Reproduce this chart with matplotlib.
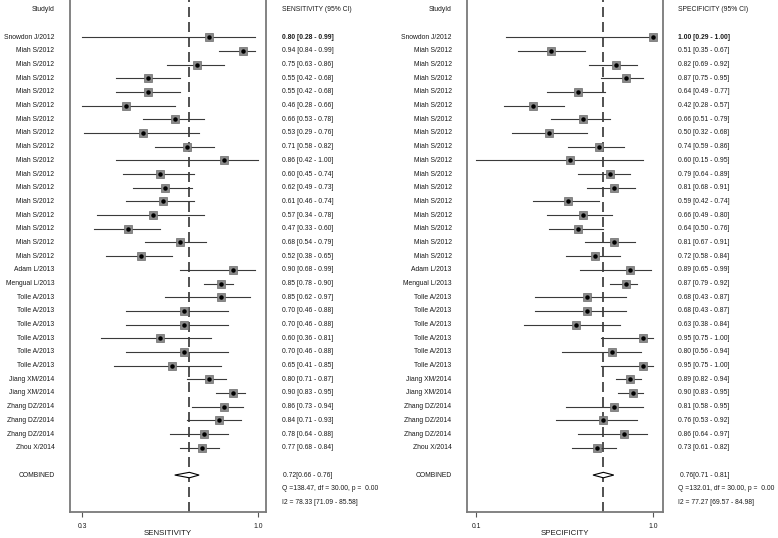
import matplotlib
matplotlib.use("Agg")
import matplotlib.pyplot as plt
import matplotlib.transforms as mtransforms
from matplotlib.patches import Polygon

plt.rcParams['font.family'] = ['Liberation Sans', 'DejaVu Sans']

studies = ["Snowdon J/2012"] + ["Miah S/2012"] * 16 + ["Adam L/2013", "Mengual L/2013"] + \
          ["Tolle A/2013"] * 6 + ["Jiang XM/2014"] * 2 + ["Zhang DZ/2014"] * 3 + ["Zhou X/2014"]

sens = [0.80, 0.94, 0.75, 0.55, 0.55, 0.46, 0.66, 0.53, 0.71, 0.86, 0.60, 0.62, 0.61, 0.57, 0.47, 0.68,
        0.52, 0.90, 0.85, 0.85, 0.70, 0.70, 0.60, 0.70, 0.65, 0.80, 0.90, 0.86, 0.84, 0.78, 0.77]
sens_lo = [0.28, 0.84, 0.63, 0.42, 0.42, 0.28, 0.53, 0.29, 0.58, 0.42, 0.45, 0.49, 0.46, 0.34, 0.33, 0.54,
           0.38, 0.68, 0.78, 0.62, 0.46, 0.46, 0.36, 0.46, 0.41, 0.71, 0.83, 0.73, 0.71, 0.64, 0.68]
sens_hi = [0.99, 0.99, 0.86, 0.68, 0.68, 0.66, 0.78, 0.76, 0.82, 1.00, 0.74, 0.73, 0.74, 0.78, 0.60, 0.79,
           0.65, 0.99, 0.90, 0.97, 0.88, 0.88, 0.81, 0.88, 0.85, 0.87, 0.95, 0.94, 0.93, 0.88, 0.84]

spec = [1.00, 0.51, 0.82, 0.87, 0.64, 0.42, 0.66, 0.50, 0.74, 0.60, 0.79, 0.81, 0.59, 0.66, 0.64, 0.81,
        0.72, 0.89, 0.87, 0.68, 0.68, 0.63, 0.95, 0.80, 0.95, 0.89, 0.90, 0.81, 0.76, 0.86, 0.73]
spec_lo = [0.29, 0.35, 0.69, 0.75, 0.49, 0.28, 0.51, 0.32, 0.59, 0.15, 0.64, 0.68, 0.42, 0.49, 0.50, 0.67,
           0.58, 0.65, 0.79, 0.43, 0.43, 0.38, 0.75, 0.56, 0.75, 0.82, 0.83, 0.58, 0.53, 0.64, 0.61]
spec_hi = [1.00, 0.67, 0.92, 0.95, 0.77, 0.57, 0.79, 0.68, 0.86, 0.95, 0.89, 0.91, 0.74, 0.80, 0.76, 0.91,
           0.84, 0.99, 0.92, 0.87, 0.87, 0.84, 1.00, 0.94, 1.00, 0.94, 0.95, 0.95, 0.92, 0.97, 0.82]

# pooled estimates and heterogeneity
sens_pool = (0.72, 0.66, 0.76)
spec_pool = (0.76, 0.71, 0.81)
sens_het = ("Q =138.47, df = 30.00, p =  0.00", "I2 = 78.33 [71.09 - 85.58]")
spec_het = ("Q =132.01, df = 30.00, p =  0.00", "I2 = 77.27 [69.57 - 84.98]")

W, H = 778, 538
fig = plt.figure(figsize=(W / 100, H / 100), dpi=100)

FS = 4.9
TXT = '#1a1a1a'


def draw_panel(left_px, right_px, label_px, stat_px, est, lo, hi, pool, het, name, xlim, ticks, ticklabels):
    ax = fig.add_axes([left_px / W, 1 - 512 / H, (right_px - left_px) / W, 512 / H])
    n = len(est)
    rows = list(range(n))

    for i in rows:
        ax.plot([lo[i], hi[i]], [i, i], color='#3a3a3a', lw=0.8, zorder=2)
    ax.plot(est, rows, 's', ms=5.2, color='#8a8a8a', mec='#6a6a6a', mew=0.5, zorder=3)
    ax.plot(est, rows, 'o', ms=2.2, color='black', zorder=4)

    # combined diamond
    yc = n + 1
    p, plo, phi = pool
    ax.add_patch(Polygon([(plo, yc), (p, yc - 0.2), (phi, yc), (p, yc + 0.2)], closed=True,
                         facecolor='white', edgecolor='black', lw=0.8, zorder=4))
    ax.axvline(p, color='#333333', lw=1.2, dashes=(6, 3), zorder=1)

    ax.set_xlim(*xlim)
    ax.set_ylim(n + 3.7, -2.72)
    ax.set_yticks([])
    ax.set_xticks(ticks)
    ax.set_xticklabels(ticklabels, fontsize=FS, color=TXT)
    ax.tick_params(axis='x', length=3.6, width=0.8, color='#555555', pad=4.5)
    ax.spines['top'].set_visible(False)
    for s in ['left', 'right', 'bottom']:
        ax.spines[s].set_color('#7a7a7a')
        ax.spines[s].set_linewidth(1.3)
    ax.set_xlabel(name, fontsize=FS + 0.8, color=TXT, labelpad=0)

    tr = mtransforms.blended_transform_factory(fig.transFigure, ax.transData)
    lx, sx = label_px / W, stat_px / W
    ax.text(lx, -2, "StudyId", transform=tr, ha='right', va='center', fontsize=FS, color=TXT, clip_on=False)
    ax.text(sx, -2, f"{name} (95% CI)", transform=tr, ha='left', va='center', fontsize=FS, color=TXT, clip_on=False)
    for i in rows:
        ax.text(lx, i, studies[i], transform=tr, ha='right', va='center', fontsize=FS, color=TXT, clip_on=False)
        ax.text(sx, i, f"{est[i]:.2f} [{lo[i]:.2f} - {hi[i]:.2f}]", transform=tr, ha='left', va='center',
                fontsize=FS, color=TXT, fontweight='bold' if i == 0 else 'normal', clip_on=False)
    ax.text(lx, yc, "COMBINED", transform=tr, ha='right', va='center', fontsize=FS, color=TXT, clip_on=False)
    ax.text(sx + 1.5 / W, yc, f"{p:.2f}[{plo:.2f} - {phi:.2f}]", transform=tr, ha='left', va='center',
            fontsize=FS, color=TXT, clip_on=False)
    ax.text(sx, yc + 1, het[0], transform=tr, ha='left', va='center', fontsize=FS, color=TXT, clip_on=False)
    ax.text(sx, yc + 2, het[1], transform=tr, ha='left', va='center', fontsize=FS, color=TXT, clip_on=False)
    return ax


draw_panel(70, 266, 54.5, 281.5, sens, sens_lo, sens_hi, sens_pool, sens_het, "SENSITIVITY",
           (0.231, 1.034), [min(sens_lo), 1.0], ["0.3", "1.0"])
draw_panel(466.7, 663.3, 451.5, 678.5, spec, spec_lo, spec_hi, spec_pool, spec_het, "SPECIFICITY",
           (0.103, 1.048), [min(spec_lo), 1.0], ["0.1", "1.0"])

fig.savefig("out.png", dpi=100)
